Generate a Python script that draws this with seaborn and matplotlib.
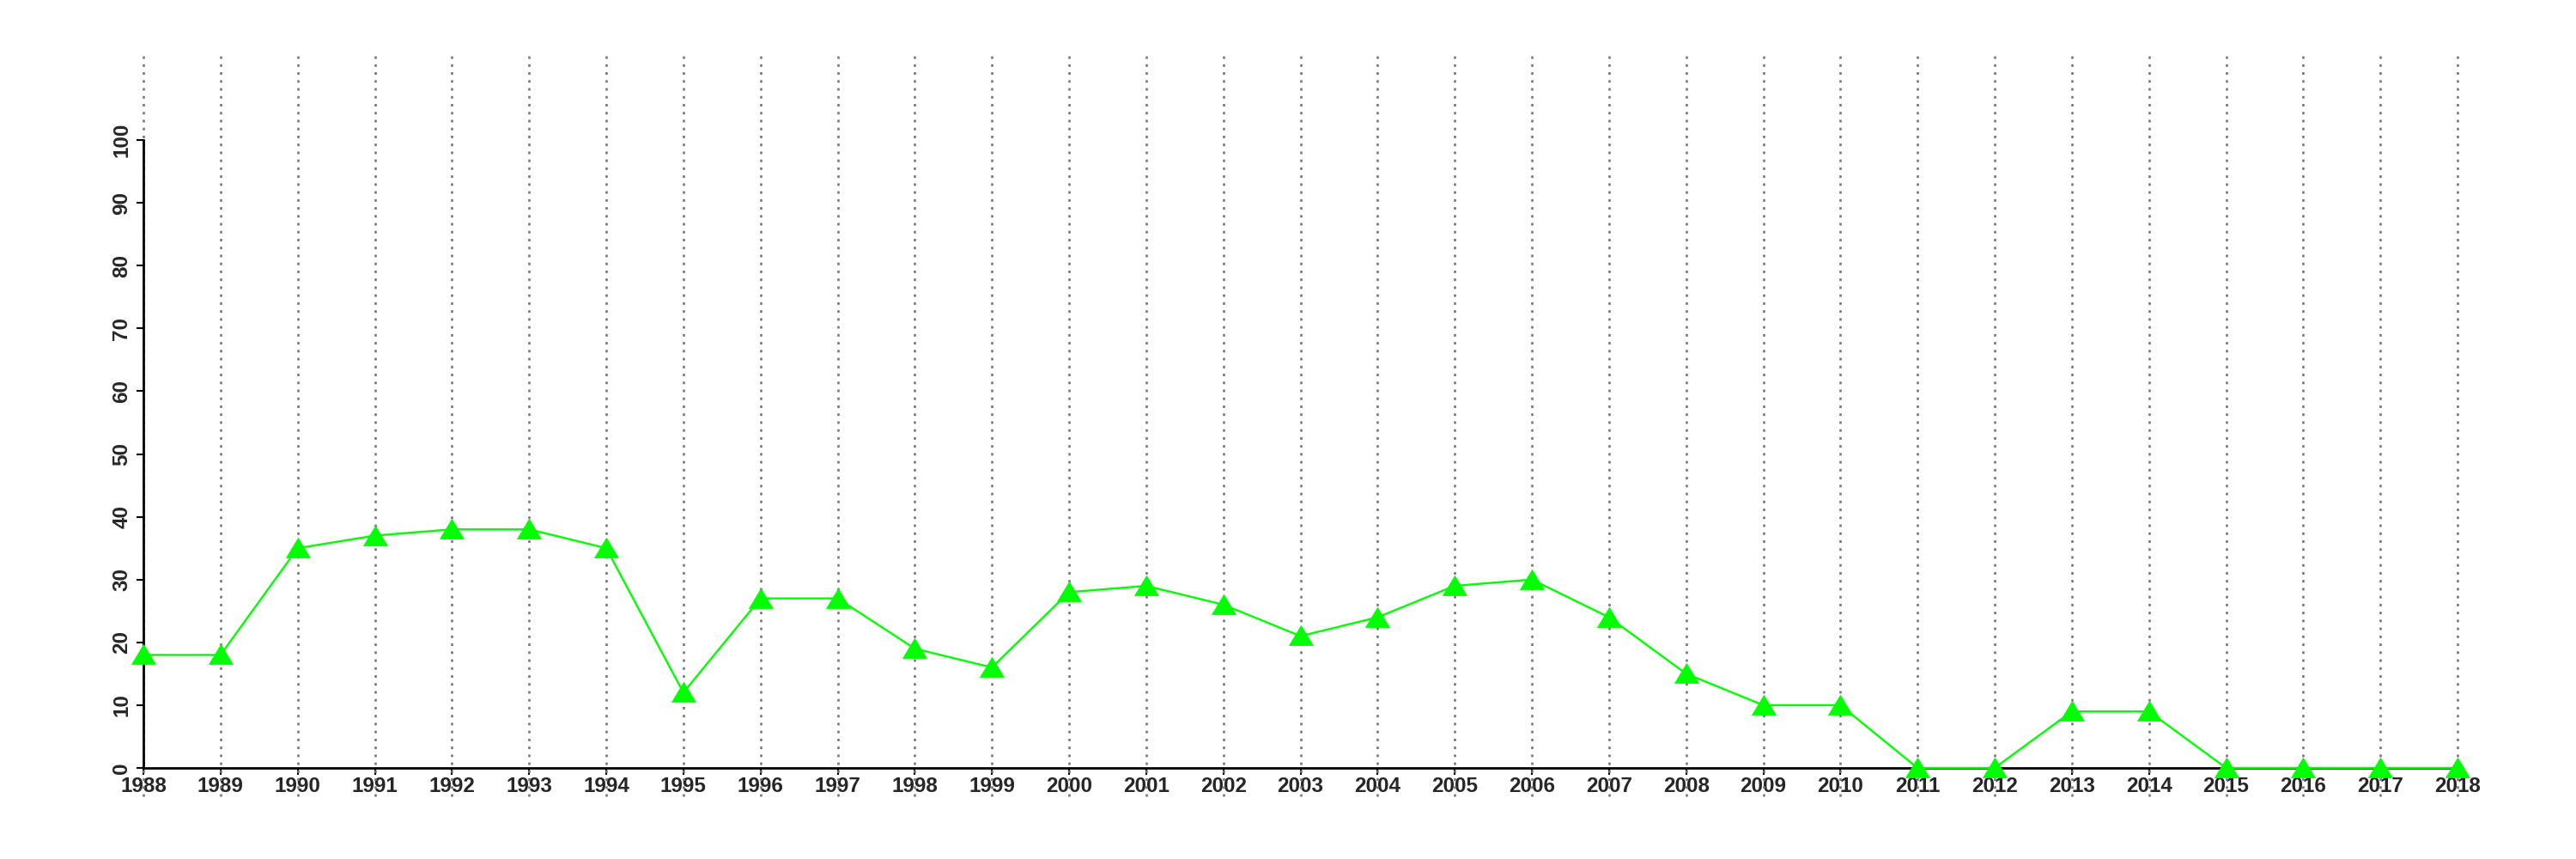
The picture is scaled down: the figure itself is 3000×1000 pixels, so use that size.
import matplotlib
matplotlib.use("Agg")
import matplotlib.pyplot as plt
import seaborn as sns
import pandas as pd

years = list(range(1988, 2019))
values = [18, 18, 35, 37, 38, 38, 35, 12, 27, 27, 19, 16, 28, 29, 26, 21, 24,
          29, 30, 24, 15, 10, 10, 0, 0, 9, 9, 0, 0, 0, 0]
y_ticks = list(range(0, 101, 10))

sns.set_theme(style="white")
plt.rcParams['font.family'] = ['Liberation Sans', 'DejaVu Sans']
plt.rcParams['font.weight'] = 'bold'

df = pd.DataFrame({"year": years, "value": values})

fig = plt.figure(figsize=(30, 10), dpi=100)
ax = fig.add_axes([0.0557, 0.106, 0.954 - 0.0557, 0.837 - 0.106])

for yr in years:
    ax.axvline(yr, ymin=-0.045, ymax=1.141, color="#777777", lw=1.9,
               linestyle=(0, (1.1, 2.4)), clip_on=False, zorder=1)

tri = [(-1.0, -0.78), (1.0, -0.78), (0.0, 0.88), (-1.0, -0.78)]
sns.lineplot(data=df, x="year", y="value", ax=ax, color="#00ff00", lw=1.7,
             marker=tri, markersize=21, markeredgewidth=0,
             markerfacecolor="#00ff00", clip_on=False, zorder=3)

ax.set_xlim(1988, 2018)
ax.set_ylim(0, 100)
ax.set_xticks(years)
ax.set_xticklabels([str(y) for y in years], fontsize=17.5, fontweight='bold')
ax.set_yticks(y_ticks)
ax.set_yticklabels([str(v) for v in y_ticks], fontsize=17.5, fontweight='bold',
                   rotation=90, va='center')
ax.set_xlabel("")
ax.set_ylabel("")

for s in ["top", "right"]:
    ax.spines[s].set_visible(False)
for s in ["left", "bottom"]:
    ax.spines[s].set_color("black")
    ax.spines[s].set_linewidth(2)
ax.spines["left"].set_bounds(0, 100)
ax.spines["bottom"].set_bounds(1988, 2018)
ax.tick_params(axis="both", which="major", length=6, width=1.5, color="black",
               direction="out", bottom=True, left=True)
ax.tick_params(axis="y", pad=4)
ax.tick_params(axis="x", pad=1)
ax.grid(False)

fig.savefig("out.png", dpi=100, facecolor="white")
